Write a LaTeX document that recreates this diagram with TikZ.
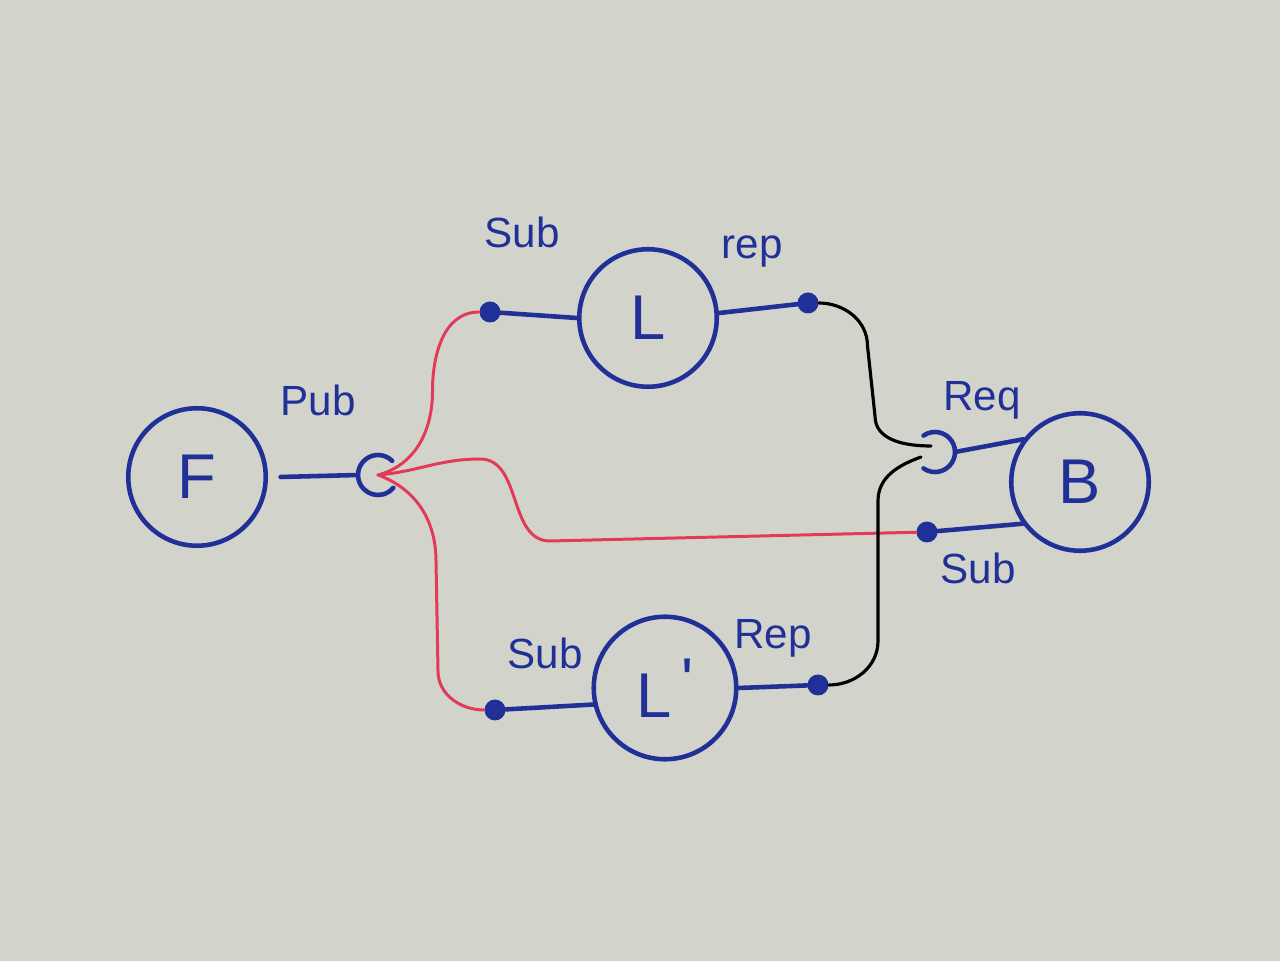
\documentclass[tikz,border=0pt]{standalone}
\usepackage{fontspec}
\setmainfont{Liberation Sans}
\usepackage{xcolor}
\usetikzlibrary{positioning}
\definecolor{paper}{RGB}{210,212,204}
\definecolor{ink}{RGB}{32,48,150}
\definecolor{redink}{RGB}{226,58,88}
\begin{document}
\begin{tikzpicture}[
    proc/.style={circle, draw=ink, line width=2.6pt, minimum size=2.75cm,
                 inner sep=0pt, text=ink, font=\fontsize{36}{36}\selectfont},
    port/.style={circle, fill=ink, inner sep=0pt, minimum size=0.42cm},
    lab/.style={text=ink, font=\fontsize{24}{24}\selectfont},
    wire/.style={draw=ink, line width=2.6pt, line cap=round},
    sig/.style={draw=redink, line width=1.7pt, line cap=round},
    link/.style={draw=black, line width=1.8pt, line cap=round},
  ]
  \fill[paper] (0,0) rectangle (25.6,19.22);
  % ---- processes ----
  \node[proc] (F)  at (3.94,9.68)  {F};
  \node[proc] (L)  at (12.96,12.86) {L};
  \node[proc, minimum size=2.85cm] (Lp) at (13.30,5.46)
      {L\kern0.15em\raisebox{0.45ex}{\textquotesingle}};
  \node[proc] (B)  at (21.60,9.58) {B};
  % ---- ports ----
  \node[port] (s1) at (9.80,12.98) {};
  \node[port] (r1) at (16.16,13.16) {};
  \node[port] (s2) at (9.90,5.02)  {};
  \node[port] (r2) at (16.36,5.52) {};
  \node[port] (s3) at (18.54,8.58) {};
  \coordinate (pubsock) at (7.56,9.72);
  \coordinate (reqsock) at (18.70,10.18);
  % ---- labels ----
  \node[lab] (pubL)  at (6.36,11.22)  {Pub};
  \node[lab] (sub1L) at (10.44,14.58) {Sub};
  \node[lab] (rep1L) at (15.04,14.18) {rep};
  \node[lab] (sub2L) at (10.90,6.16)  {Sub};
  \node[lab] (rep2L) at (15.46,6.46)  {Rep};
  \node[lab] (reqL)  at (19.64,11.22) {Req};
  \node[lab] (sub3L) at (19.56,7.86)  {Sub};
  % ---- sockets ----
  \draw[wire] ([shift={(45:0.4)}]pubsock) arc (45:320:0.4);
  \draw[wire] ([shift={(125:0.4)}]reqsock) arc (125:-125:0.4);
  % ---- blue wires ----
  \draw[wire] ([xshift=0.25cm]F.east) -- ([xshift=-0.4cm]pubsock);
  \draw[wire] (s1) -- (L.west);
  \draw[wire] (L.4) -- (r1);
  \draw[wire] (s2) -- (Lp.193);
  \draw[wire] (Lp.east) -- (r2);
  \draw[wire] ([xshift=0.4cm]reqsock) -- (B.143);
  \draw[wire] (s3) -- (B.216);
  % ---- red: publish to subscribers ----
  \draw[sig] (pubsock) to[out=15, in=-90] (8.65,11.4)
      to[out=90, in=180] (s1);
  \draw[sig] (pubsock) to[out=-20, in=90] (8.72,8.0)
      -- (8.76,5.8) to[out=-90, in=180] (s2);
  \draw[sig] (pubsock) to[out=5, in=180] (9.6,10.04)
      to[out=0, in=180] (11.0,8.40) -- (s3);
  % ---- black: replies to request ----
  \draw[link] (r1) to[out=0, in=90] (17.35,12.3)
      -- (17.5,10.9) to[out=-90, in=180] (18.62,10.3);
  \draw[link] (18.42,10.08) to[out=200, in=90] (17.56,9.2)
      -- (17.56,6.4) to[out=-90, in=0] (r2);
\end{tikzpicture}
\end{document}
